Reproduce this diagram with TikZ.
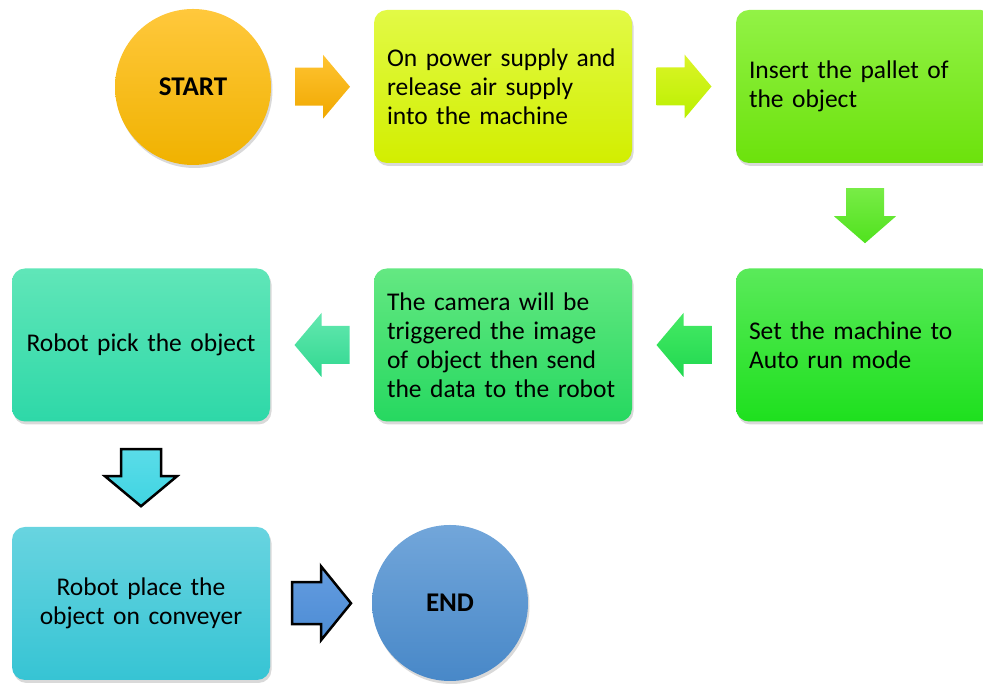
\documentclass[tikz,border=0pt]{standalone}
\usepackage{fontspec}
\setmainfont{Carlito}
\usetikzlibrary{shadows,calc}
\tikzset{
  stepbox/.style={rounded corners=13pt, minimum width=258pt, minimum height=153pt,
    text width=232pt, inner xsep=13pt, align=left, font=\fontsize{25.5}{29}\selectfont,
    drop shadow={opacity=0.3, shadow xshift=1.5pt, shadow yshift=-3pt}},
  cbox/.style={stepbox, align=center},
  term/.style={circle, minimum size=156pt, inner sep=0pt, font=\fontsize{27}{29}\selectfont\bfseries,
    drop shadow={opacity=0.3, shadow xshift=1.5pt, shadow yshift=-3pt}},
  ashadow/.style={drop shadow={opacity=0.2, shadow xshift=1pt, shadow yshift=-2pt}},
  outl/.style={draw=black, line width=2.5pt, line join=miter},
  rarrow/.pic={\path[pic actions] (-27.5,19) -- (0.5,19) -- (0.5,32) -- (27.5,0) -- (0.5,-32) -- (0.5,-19) -- (-27.5,-19) -- cycle;},
  larrow/.pic={\path[pic actions] (27.5,19) -- (-0.5,19) -- (-0.5,32) -- (-27.5,0) -- (-0.5,-32) -- (-0.5,-19) -- (27.5,-19) -- cycle;},
  darrow/.pic={\path[pic actions] (-19,27.5) -- (19,27.5) -- (19,-0.5) -- (31,-0.5) -- (0,-27.5) -- (-31,-0.5) -- (-19,-0.5) -- cycle;},
  odarrow/.pic={\path[pic actions] (-20,28) -- (20,28) -- (20,1) -- (36,1) -- (0,-29) -- (-36,1) -- (-20,1) -- cycle;},
  orarrow/.pic={\path[pic actions] (-29,21) -- (0,21) -- (0,37) -- (30,0) -- (0,-37) -- (0,-21) -- (-29,-21) -- cycle;},
}
\begin{document}
\begin{tikzpicture}[x=1pt,y=1pt]
\useasboundingbox (0,0) rectangle (983,684);
\clip (0,0) rectangle (983,684);
\node[term, top color={rgb,255:red,255;green,200;blue,60}, bottom color={rgb,255:red,240;green,178;blue,0}] (start) at (193,597) {START};
\node[stepbox, top color={rgb,255:red,226;green,250;blue,70}, bottom color={rgb,255:red,210;green,238;blue,0}] (b1) at (503,597.5) {On power supply and\\release air supply\\into the machine};
\node[stepbox, top color={rgb,255:red,146;green,242;blue,70}, bottom color={rgb,255:red,108;green,226;blue,12}] (b2) at (865,597.5) {Insert the pallet of\\the object};
\node[stepbox, top color={rgb,255:red,90;green,234;blue,90}, bottom color={rgb,255:red,30;green,224;blue,30}] (b3) at (865,339) {Set the machine to\\Auto run mode};
\node[stepbox, top color={rgb,255:red,100;green,232;blue,130}, bottom color={rgb,255:red,38;green,216;blue,96}] (b4) at (503,339) {The camera will be\\triggered the image\\of object then send\\the data to the robot};
\node[cbox, top color={rgb,255:red,96;green,230;blue,184}, bottom color={rgb,255:red,46;green,216;blue,168}] (b5) at (141,339) {Robot pick the object};
\node[cbox, top color={rgb,255:red,104;green,212;blue,224}, bottom color={rgb,255:red,54;green,196;blue,212}] (b6) at (141,80.5) {Robot place the\\object on conveyer};
\node[term, top color={rgb,255:red,114;green,166;blue,218}, bottom color={rgb,255:red,72;green,136;blue,200}] (end) at (450,81) {END};

\coordinate (m1) at ($(start.east)!0.5!(b1.west)$);
\coordinate (m2) at ($(b1.east)!0.5!(b2.west)$);
\coordinate (m3) at ($(b2.south)!0.5!(b3.north)$);
\coordinate (m4) at ($(b3.west)!0.5!(b4.east)$);
\coordinate (m5) at ($(b4.west)!0.5!(b5.east)$);
\coordinate (m6) at ($(b5.south)!0.5!(b6.north)+(0,-3)$);
\coordinate (m7) at ($(b6.east)!0.5!(end.west)$);

\pic[ashadow, top color={rgb,255:red,255;green,196;blue,50}, bottom color={rgb,255:red,240;green,168;blue,0}] at (m1) {rarrow};
\pic[ashadow, top color={rgb,255:red,220;green,244;blue,40}, bottom color={rgb,255:red,186;green,240;blue,0}] at (m2) {rarrow};
\pic[ashadow, top color={rgb,255:red,120;green,236;blue,70}, bottom color={rgb,255:red,80;green,226;blue,30}] at (m3) {darrow};
\pic[ashadow, top color={rgb,255:red,70;green,234;blue,100}, bottom color={rgb,255:red,32;green,216;blue,80}] at (m4) {larrow};
\pic[ashadow, top color={rgb,255:red,100;green,232;blue,176}, bottom color={rgb,255:red,48;green,216;blue,144}] at (m5) {larrow};
\pic[ashadow, outl, top color={rgb,255:red,90;green,220;blue,232}, bottom color={rgb,255:red,64;green,212;blue,226}] at (m6) {odarrow};
\pic[ashadow, outl, top color={rgb,255:red,100;green,156;blue,224}, bottom color={rgb,255:red,76;green,140;blue,212}] at (m7) {orarrow};
\end{tikzpicture}
\end{document}
